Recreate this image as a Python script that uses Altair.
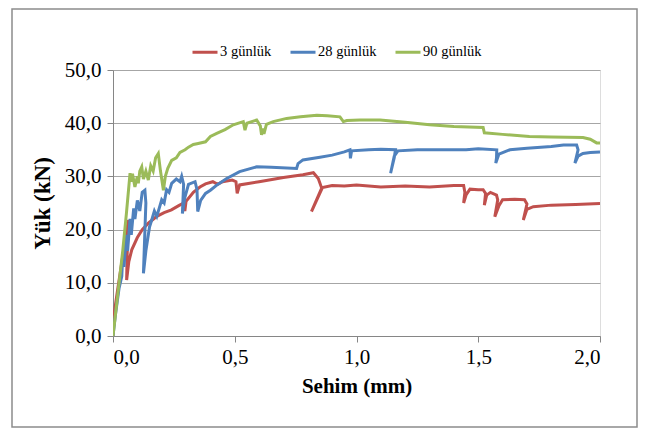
import altair as alt
import pandas as pd

series_names = ["3 günlük", "28 günlük", "90 günlük"]
series_colors = ["#C0504D", "#4F81BD", "#9BBB59"]

red_x = [0, 0.005, 0.02, 0.04, 0.055, 0.063, 0.058, 0.056, 0.065, 0.077, 0.10, 0.12, 0.145, 0.18, 0.21, 0.24,
         0.27, 0.29, 0.295, 0.30, 0.33, 0.357, 0.38, 0.41, 0.43, 0.45, 0.49, 0.505, 0.51, 0.52, 0.6, 0.7, 0.78,
         0.823, 0.843, 0.857, 0.815, 0.86, 0.9, 0.95, 1.0, 1.1, 1.2, 1.3, 1.4, 1.44, 1.445, 1.44, 1.45, 1.466,
         1.5, 1.52, 1.53, 1.525, 1.535, 1.55, 1.575, 1.58, 1.568, 1.585, 1.6, 1.65, 1.69, 1.70, 1.685, 1.70,
         1.726, 1.8, 1.9, 2.0]
red_y = [0, 4.3, 9, 15, 19.5, 21.8, 15, 10.5, 14, 16.2, 18.5, 20, 21.2, 22.5, 23.2, 23.7,
         24.5, 25, 23.5, 25.3, 27, 28, 28.6, 29, 28.5, 29, 29.3, 29, 26.8, 28.4, 29, 29.8, 30.3,
         30.7, 29.6, 27.8, 23.4, 27.9, 28.3, 28.2, 28.4, 28, 28.2, 28, 28.3, 28.3, 27, 25, 26.5, 27.6,
         27.5, 27.5, 26.8, 24.6, 26.5, 27, 26.5, 25.6, 22.4, 24.5, 25.6, 25.7, 25.6, 24.8, 21.8, 23.8,
         24.3, 24.6, 24.7, 24.9]

blue_x = [0, 0.01, 0.025, 0.036, 0.04, 0.045, 0.055, 0.06, 0.07, 0.075, 0.085, 0.09, 0.1, 0.11, 0.12,
          0.131, 0.135, 0.125, 0.135, 0.15, 0.159, 0.17, 0.18, 0.2, 0.21, 0.22, 0.23, 0.241, 0.26, 0.275,
          0.282, 0.29, 0.285, 0.295, 0.31, 0.337, 0.345, 0.348, 0.36, 0.38, 0.40, 0.43, 0.467, 0.52, 0.59,
          0.65, 0.754, 0.76, 0.78, 0.85, 0.9, 0.95, 0.973, 0.975, 0.98, 1.05, 1.1, 1.16, 1.155, 1.14, 1.155,
          1.17, 1.25, 1.35, 1.45, 1.5, 1.576, 1.575, 1.572, 1.585, 1.63, 1.7, 1.8, 1.85, 1.904, 1.91, 1.897,
          1.91, 1.93, 1.96, 2.0]
blue_y = [0, 4, 9, 11.2, 15, 13, 19, 16, 22, 19, 24, 22, 25.5, 23.5, 27,
          27.4, 25, 11.8, 16, 20.5, 21.8, 23.5, 22.5, 25.6, 25, 27.5, 27, 28.7, 29.5, 29,
          30, 28.5, 23, 26, 28.5, 29, 27.5, 23.4, 25.5, 26.8, 27.4, 28.5, 29.6, 30.9, 31.8,
          31.7, 31.5, 32.4, 33.1, 33.6, 34, 34.6, 35, 33.4, 34.8, 35, 35.1, 35, 33.5, 30.6, 33.8,
          34.8, 35, 35, 35, 35.2, 35, 33.5, 32.5, 34.2, 35, 35.3, 35.6, 35.9, 35.9, 35, 32.5,
          33.8, 34.3, 34.5, 34.6]

green_x = [0, 0.02, 0.04, 0.055, 0.07, 0.075, 0.08, 0.09, 0.1, 0.104, 0.11, 0.118, 0.125, 0.135, 0.145,
           0.155, 0.165, 0.175, 0.186, 0.195, 0.207, 0.215, 0.225, 0.241, 0.26, 0.275, 0.296, 0.31, 0.33,
           0.35, 0.38, 0.40, 0.426, 0.46, 0.494, 0.535, 0.542, 0.55, 0.59, 0.605, 0.61, 0.615, 0.62, 0.63,
           0.658, 0.713, 0.77, 0.837, 0.88, 0.932, 0.946, 0.96, 1.014, 1.097, 1.2, 1.30, 1.4, 1.52, 1.525,
           1.6, 1.71, 1.8, 1.93, 1.96, 1.986, 2.0]
green_y = [0, 8, 16, 23, 30.6, 29, 30.5, 28, 30, 28.7, 31, 31.8, 29.5, 31, 29.3,
           32, 31, 33.5, 34.3, 31, 27.4, 30, 31.5, 33, 33.5, 34.5, 35, 35.5, 36,
           36.2, 36.5, 37.5, 38.1, 38.8, 39.7, 40.3, 38.7, 40, 40.6, 39.5, 37.8, 39, 38, 39.8,
           40.3, 40.9, 41.2, 41.5, 41.4, 41.2, 40.3, 40.5, 40.6, 40.6, 40.2, 39.7, 39.4, 39.2, 38.2,
           37.9, 37.5, 37.4, 37.3, 37, 36.3, 36.3]

x_ticks = [0, 0.5, 1.0, 1.5, 2.0]
y_ticks = [0, 10, 20, 30, 40, 50]

rows = []
i = 0
for name, xs, ys in zip(series_names, [red_x, blue_x, green_x], [red_y, blue_y, green_y]):
    for xv, yv in zip(xs, ys):
        rows.append({"seri": name, "x": xv, "y": yv, "i": i})
        i += 1
df = pd.DataFrame(rows)

FONT = "Liberation Serif"
GREY = "#868686"

lines = alt.Chart(df).mark_line(strokeWidth=3, clip=True).encode(
    x=alt.X("x:Q", scale=alt.Scale(domain=[0, 2], nice=False),
            axis=alt.Axis(values=x_ticks, labelExpr="replace(format(datum.value, '.1f'), '.', ',')",
                          title="Sehim (mm)", grid=False, domainColor=GREY, tickColor=GREY, tickSize=6,
                          labelFontSize=21, labelColor="#000000", labelPadding=4,
                          titleFontSize=21, titleFontWeight="bold", titleColor="#000000",
                          titlePadding=8)),
    y=alt.Y("y:Q", scale=alt.Scale(domain=[0, 50], nice=False),
            axis=alt.Axis(values=y_ticks, labelExpr="replace(format(datum.value, '.1f'), '.', ',')",
                          title="Yük (kN)", grid=True, gridColor="#A6A6A6", gridWidth=1,
                          domainColor=GREY, tickColor=GREY, tickSize=6,
                          labelFontSize=21, labelColor="#000000", labelPadding=6,
                          titleFontSize=23, titleFontWeight="bold", titleColor="#000000",
                          titlePadding=10)),
    color=alt.Color("seri:N", scale=alt.Scale(domain=series_names, range=series_colors),
                    legend=alt.Legend(title=None, orient="none", direction="horizontal",
                                      legendX=78, legendY=-32, symbolType="stroke", symbolSize=625,
                                      symbolStrokeWidth=3, labelFontSize=14.5,
                                      labelColor="#000000", columnPadding=12, labelOffset=1)),
    detail="seri:N",
    order=alt.Order("i:Q"),
)

frame = alt.Chart(pd.DataFrame({"a": [0]})).mark_rect(fill=None, stroke="#8C8C8C", strokeWidth=1.5).encode(
    x=alt.value(-101), x2=alt.value(524), y=alt.value(-61), y2=alt.value(357)
)

chart = alt.layer(frame, lines).properties(
    width=487, height=266,
    autosize=alt.AutoSizeParams(type="none"),
    padding={"left": 105, "top": 62, "right": 38, "bottom": 93},
).configure_view(stroke=None).configure(background="#FFFFFF", font=FONT).configure_axis(
    labelFont=FONT, titleFont=FONT
).configure_legend(labelFont=FONT)

chart.save("out.html", embed_options={"renderer": "svg", "actions": False})
